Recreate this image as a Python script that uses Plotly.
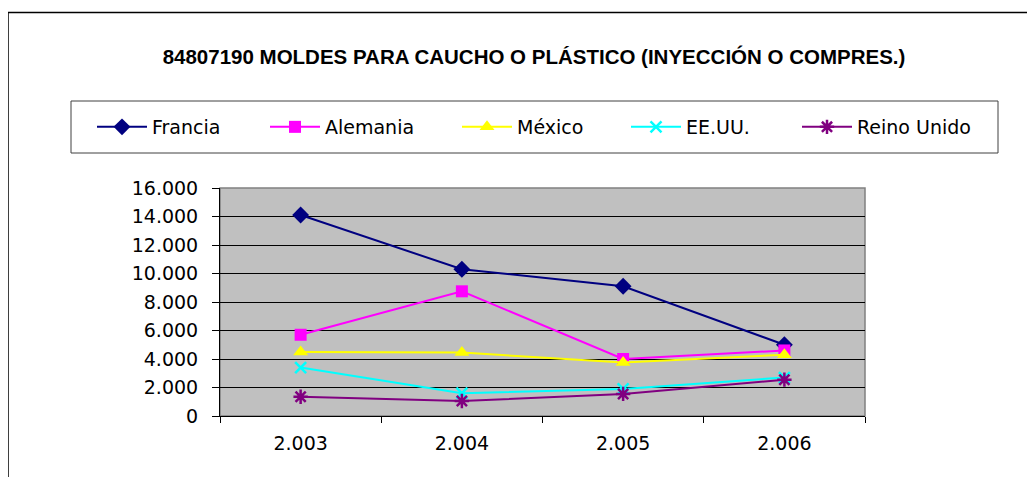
import plotly.graph_objects as go

years = ["2.003", "2.004", "2.005", "2.006"]
francia = [14100, 10300, 9100, 5000]
alemania = [5700, 8750, 4000, 4600]
mexico = [4500, 4450, 3750, 4300]
eeuu = [3400, 1600, 1900, 2700]
reino_unido = [1350, 1050, 1550, 2550]

series = [
    ("Francia", francia, "#000080", "diamond", 13, 0),
    ("Alemania", alemania, "#FF00FF", "square", 12, 0),
    ("México", mexico, "#FFFF00", "triangle-up", 13, 0),
    ("EE.UU.", eeuu, "#00FFFF", "x-thin-open", 11, 2.5),
    ("Reino Unido", reino_unido, "#800080", "asterisk-open", 12, 2.5),
]

OFF = 8  # page body margin
W, H = 1035 - OFF, 477 - OFF
# plot area in screen pixels (reference)
L, R, T, B = 220, 865, 188, 416
pw, ph = R - L, B - T

def px(x):
    return (x - L) / pw

def py(y):
    return (B - y) / ph

legend_starts = [92, 265, 457, 626, 797]

fig = go.Figure()
for i, (name, vals, col, sym, size, lw) in enumerate(series):
    marker = dict(symbol=sym, size=size, color=col)
    if lw:
        marker["line"] = dict(color=col, width=lw)
    fig.add_trace(go.Scatter(
        x=years, y=vals, name=name, mode="lines+markers",
        line=dict(color=col, width=2), marker=marker,
        legend="legend" if i == 0 else f"legend{i+1}",
    ))

font_main = "DejaVu Sans, Verdana, sans-serif"
leg_common = dict(
    orientation="h", xanchor="left", yanchor="middle",
    bgcolor="rgba(0,0,0,0)", borderwidth=0, itemwidth=50,
    font=dict(family=font_main, size=19, color="#000"),
)
layout_legends = {}
for i, xs in enumerate(legend_starts):
    key = "legend" if i == 0 else f"legend{i+1}"
    layout_legends[key] = dict(leg_common, x=px(xs), y=py(127))

fig.update_layout(
    width=W, height=H,
    margin=dict(l=L - OFF, r=W - (R - OFF), t=T - OFF, b=H - (B - OFF), pad=0),
    paper_bgcolor="white", plot_bgcolor="#C0C0C0",
    separators=",.",
    showlegend=True,
    title=dict(
        text="<b>84807190 MOLDES PARA CAUCHO O PLÁSTICO (INYECCIÓN O COMPRES.)</b>",
        font=dict(family="Liberation Sans, Arial, sans-serif", size=20.5, color="#000"),
        xref="paper", x=px(534), xanchor="center",
        yref="container", y=1 - (57 - OFF) / H, yanchor="middle",
    ),
    xaxis=dict(
        type="category", range=[-0.5, 3.5], tickson="boundaries",
        ticks="outside", ticklen=6, tickcolor="#000", tickwidth=1,
        showline=True, linecolor="#000", linewidth=1, showgrid=False,
        tickfont=dict(family=font_main, size=19, color="#000"),
        ticklabelstandoff=10,
    ),
    yaxis=dict(
        range=[0, 16000], dtick=2000, tickformat=",d",
        ticks="outside", ticklen=7, tickcolor="#000", tickwidth=1,
        showline=True, linecolor="#000", linewidth=1,
        showgrid=True, gridcolor="#000", gridwidth=1, zeroline=False,
        tickfont=dict(family=font_main, size=19, color="#000"),
        ticklabelstandoff=10,
    ),
    shapes=[
        dict(type="rect", xref="paper", yref="paper", x0=0, x1=1, y0=0, y1=1,
             line=dict(color="#808080", width=1.5), layer="below"),
        dict(type="rect", xref="paper", yref="paper",
             x0=px(71), x1=px(998), y0=py(153), y1=py(101),
             line=dict(color="#404040", width=1)),
        dict(type="rect", xref="paper", yref="paper",
             x0=px(8), x1=px(1060), y0=py(500), y1=py(12.5),
             line=dict(color="#000", width=1.5)),
    ],
    **layout_legends,
)

fig.write_html("out.html")
